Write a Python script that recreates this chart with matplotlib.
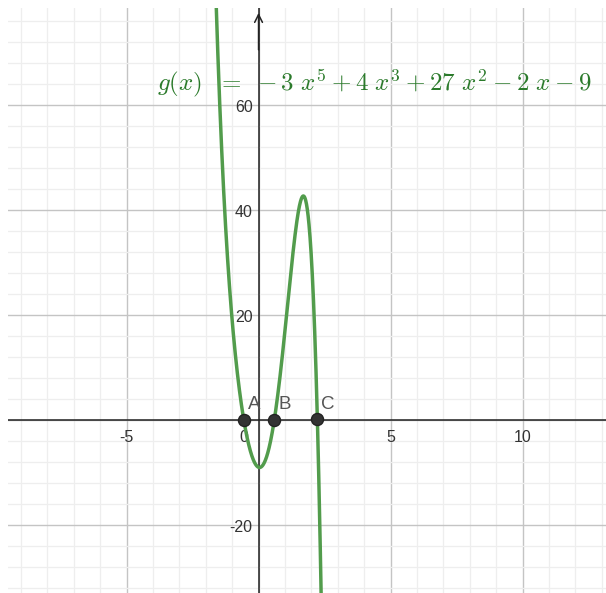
import numpy as np
import matplotlib.pyplot as plt
from matplotlib.ticker import MultipleLocator

plt.rcParams['mathtext.fontset'] = 'cm'
plt.rcParams['font.family'] = ['Liberation Sans', 'DejaVu Sans']

# g(x) = -3x^5 + 4x^3 + 27x^2 - 2x - 9  (highest power first)
coeffs = [-3, 0, 4, 27, -2, -9]
point_names = ['A', 'B', 'C']
point_x = [-0.558, 0.595, 2.228]

x_ticks = [-5, 5, 10]
y_ticks = [-20, 20, 40, 60]

fig = plt.figure(figsize=(6.06, 5.93), dpi=100)
ax = fig.add_axes([8 / 606, 0, 598 / 606, 585 / 593])
ax.set_xlim(-9.49, 13.16)
ax.set_ylim(-32.95, 78.5)

ax.xaxis.set_major_locator(MultipleLocator(5))
ax.xaxis.set_minor_locator(MultipleLocator(1))
ax.yaxis.set_major_locator(MultipleLocator(20))
ax.yaxis.set_minor_locator(MultipleLocator(4))
ax.grid(which='minor', color='#eeeeee', lw=0.9)
ax.grid(which='major', color='#c4c4c4', lw=1.0)
ax.tick_params(which='both', length=0, labelbottom=False, labelleft=False)
for s in ax.spines.values():
    s.set_visible(False)
ax.set_axisbelow(True)

ax.axhline(0, color='#222222', lw=1.1, zorder=2)
ax.axvline(0, color='#222222', lw=1.1, zorder=2)
ax.annotate('', xy=(0, 78.1), xytext=(0, 70),
            arrowprops=dict(arrowstyle='->', color='#222222', lw=1.1,
                            mutation_scale=14), zorder=2)

for t in x_ticks:
    ax.text(t, -1.9, str(t), ha='center', va='top', fontsize=11.5, color='#333333')
ax.text(-0.55, -1.9, '0', ha='center', va='top', fontsize=11.5, color='#333333')
for t in y_ticks:
    ax.text(-0.22, t - 0.5, str(t), ha='right', va='center',
            fontsize=11.5, color='#333333')

xs = np.linspace(-9.49, 13.16, 4000)
ys = np.polyval(coeffs, xs)
ys[(ys > 200) | (ys < -200)] = np.nan
ax.plot(xs, ys, color='#529c4c', lw=2.5, zorder=3)

py = np.polyval(coeffs, point_x)
ax.scatter(point_x, py, s=75, color='#333333', zorder=4, edgecolor='#222222')
for n, px in zip(point_names, point_x):
    ax.text(px + 0.15, 1.4, n, fontsize=13.5, color='#555555', ha='left', va='bottom',
            zorder=4)

ax.text(-3.84, 64.3,
        r'$g(x)\ \ =\ -3\ x^5 + 4\ x^3 + 27\ x^2 - 2\ x - 9$',
        fontsize=18, color='#2b7a2b', ha='left', va='center', zorder=5)

fig.savefig('out.png', dpi=100)
